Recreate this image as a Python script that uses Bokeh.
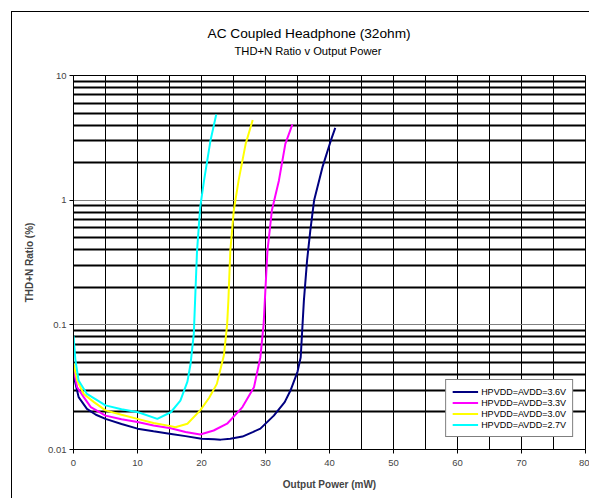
from bokeh.plotting import figure
from bokeh.models import FixedTicker, CustomJSTickFormatter, Legend, Title
from bokeh.embed import file_html
from bokeh.resources import INLINE

# ---- data ----
x_36 = [0, 0.3, 0.8, 2.1, 3.5, 5, 7.5, 10, 12.5, 15, 17.5, 20, 22, 23, 24.5, 26.4, 28, 29.2, 31.3, 33, 33.9, 35, 35.5, 36, 36.5, 37, 37.6, 38.9, 40.2, 40.9]
y_36 = [0.04, 0.034, 0.0263, 0.0212, 0.019, 0.0176, 0.016, 0.0147, 0.014, 0.0134, 0.0128, 0.0122, 0.0121, 0.012, 0.0122, 0.0127, 0.0138, 0.0147, 0.0187, 0.024, 0.0297, 0.042, 0.055, 0.157, 0.33, 0.57, 1.0, 1.84, 3.0, 3.8]

x_33 = [0, 0.57, 1.6, 2.7, 5, 7.5, 10, 12.5, 15.2, 17.5, 19.8, 21.9, 24, 26.4, 28.2, 29.2, 29.7, 29.9, 30.3, 31.0, 32.1, 33.1, 34.2]
y_33 = [0.044, 0.0316, 0.0263, 0.0219, 0.0187, 0.0175, 0.0166, 0.0156, 0.0148, 0.0138, 0.0132, 0.0142, 0.0161, 0.0219, 0.0316, 0.055, 0.1, 0.157, 0.39, 0.83, 1.44, 2.83, 4.05]

x_30 = [0, 0.57, 1.6, 3.2, 5, 7.5, 10, 12.5, 15.2, 15.9, 17.8, 19.8, 21.2, 22.4, 23.5, 24.0, 24.2, 24.5, 25.05, 25.8, 26.9, 28.0]
y_30 = [0.049, 0.0358, 0.0279, 0.024, 0.0206, 0.019, 0.0176, 0.0163, 0.0154, 0.0151, 0.0161, 0.0206, 0.026, 0.0336, 0.057, 0.1, 0.157, 0.39, 0.83, 1.44, 2.83, 4.4]

x_27 = [0, 0.3, 0.8, 2.1, 5, 7.5, 10.1, 13.1, 15.2, 16.7, 17.8, 18.3, 18.8, 19.0, 19.3, 19.8, 20.4, 21.4, 22.3]
y_27 = [0.082, 0.052, 0.0358, 0.0279, 0.0226, 0.021, 0.0199, 0.0176, 0.0199, 0.0247, 0.035, 0.049, 0.085, 0.157, 0.39, 0.88, 1.44, 3.0, 4.86]

series_labels = ["HPVDD=AVDD=3.6V", "HPVDD=AVDD=3.3V", "HPVDD=AVDD=3.0V", "HPVDD=AVDD=2.7V"]
series_colors = ["#000080", "#FF00FF", "#FFFF00", "#00FFFF"]

x_major = [0, 10, 20, 30, 40, 50, 60, 70, 80]
x_minor = [5, 15, 25, 35, 45, 55, 65, 75]
y_major = [0.01, 0.1, 1, 10]
y_minor = [m * d for d in (0.01, 0.1, 1) for m in range(2, 10)]

title_text = "AC Coupled Headphone (32ohm)"
subtitle_text = "THD+N Ratio v Output Power"
x_title = "Output Power (mW)"
y_title = "THD+N Ratio (%)"

FONT = "Liberation Sans"

p = figure(width=578, height=487, output_backend="svg", toolbar_location=None,
           y_axis_type="log", x_range=(0, 80), y_range=(0.01, 10),
           title_location=None,
           min_border_left=62, min_border_top=64, min_border_right=4, min_border_bottom=49,
           styles={"margin-left": "11px", "margin-top": "11px",
                   "box-shadow": "inset 1px 1px 0 0 #000"})
p.border_fill_color = None
p.background_fill_color = "white"
p.outline_line_color = "black"
p.outline_line_width = 1

# x axis
p.xaxis.ticker = FixedTicker(ticks=x_major, minor_ticks=x_minor)
p.xaxis.axis_label = x_title
p.xaxis.axis_label_text_font = FONT
p.xaxis.axis_label_text_font_size = "10px"
p.xaxis.axis_label_text_font_style = "bold"
p.xaxis.axis_label_standoff = 10
p.xaxis.major_label_text_font = FONT
p.xaxis.major_label_text_font_size = "9.5px"
p.xaxis.major_label_standoff = 6
p.xaxis.major_tick_out = 4
p.xaxis.major_tick_in = 0
p.xaxis.minor_tick_line_color = None
p.xaxis.axis_line_color = "black"
p.xaxis.major_tick_line_color = "black"

# y axis
p.yaxis.ticker = FixedTicker(ticks=y_major, minor_ticks=y_minor)
p.yaxis.formatter = CustomJSTickFormatter(code="return String(Number(tick.toPrecision(3)));")
p.yaxis.axis_label = y_title
p.yaxis.axis_label_text_font = FONT
p.yaxis.axis_label_text_font_size = "10px"
p.yaxis.axis_label_text_font_style = "bold"
p.yaxis.axis_label_standoff = 10
p.yaxis.major_label_text_font = FONT
p.yaxis.major_label_text_font_size = "9.5px"
p.yaxis.major_label_standoff = 3
p.yaxis.major_tick_out = 4
p.yaxis.major_tick_in = 0
p.yaxis.minor_tick_line_color = None
p.yaxis.axis_line_color = "black"
p.yaxis.major_tick_line_color = "black"

# grids
p.xgrid.grid_line_color = "black"
p.xgrid.grid_line_width = 1
p.xgrid.minor_grid_line_color = "black"
p.xgrid.minor_grid_line_width = 1
p.ygrid.grid_line_color = "#808080"
p.ygrid.grid_line_width = 1
p.ygrid.minor_grid_line_color = "black"
p.ygrid.minor_grid_line_width = 2

# series
renderers = []
for xs, ys, c in zip([x_36, x_33, x_30, x_27], [y_36, y_33, y_30, y_27], series_colors):
    r = p.line(xs, ys, line_color=c, line_width=2)
    renderers.append(r)

legend = Legend(items=[(lab, [r]) for lab, r in zip(series_labels, renderers)],
                location="bottom_right")
legend.margin = 12
legend.padding = 6
legend.spacing = 0
legend.glyph_width = 26
legend.glyph_height = 11
legend.label_height = 11
legend.label_standoff = 3
legend.label_text_font = FONT
legend.label_text_font_size = "9px"
legend.label_text_color = "black"
legend.border_line_color = "black"
legend.border_line_width = 1
legend.background_fill_color = "white"
legend.background_fill_alpha = 1
p.add_layout(legend, "center")

# titles: spacer nearest the frame, then subtitle, then main title
spacer = Title(text=" ", standoff=16, text_font=FONT, text_font_size="1px")
sub = Title(text=subtitle_text, align="left", offset=161, standoff=0,
            text_font=FONT, text_font_size="11.2px", text_font_style="normal",
            text_color="black")
main = Title(text=title_text, align="left", offset=134, standoff=4,
             text_font=FONT, text_font_size="13.7px", text_font_style="normal",
             text_color="black")
p.add_layout(spacer, "above")
p.add_layout(sub, "above")
p.add_layout(main, "above")

open("out.html", "w").write(file_html(p, INLINE))
